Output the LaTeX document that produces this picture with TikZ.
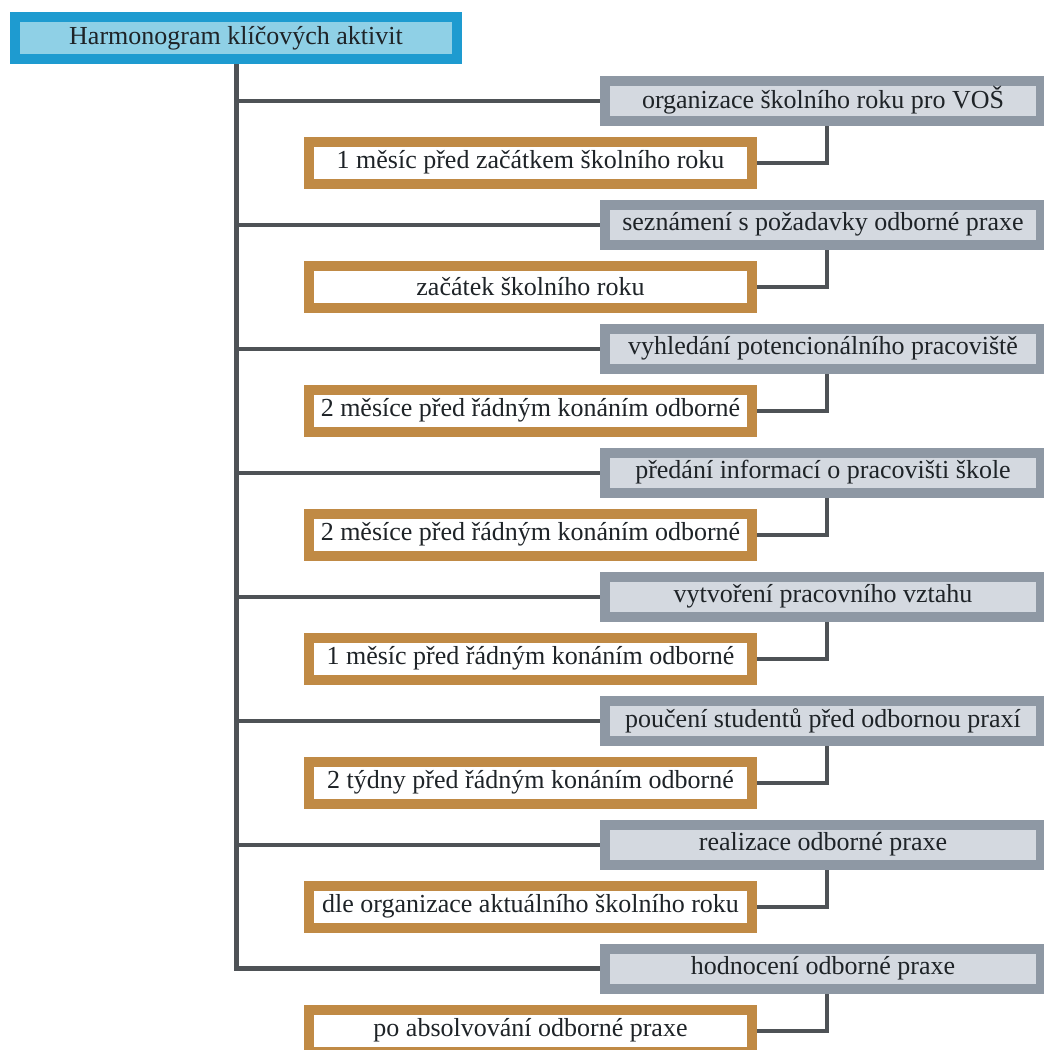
\documentclass[tikz,border=0pt]{standalone}
\usepackage{fontspec}
\setmainfont{Liberation Serif}
\usetikzlibrary{backgrounds}
\definecolor{titleborder}{HTML}{1E9BD0}
\definecolor{titlefill}{HTML}{8FD0E6}
\definecolor{grayborder}{HTML}{8E98A4}
\definecolor{grayfill}{HTML}{D4D9E0}
\definecolor{orangeborder}{HTML}{C08A45}
\definecolor{linecol}{HTML}{4E5256}
\definecolor{textcol}{HTML}{1E2327}
\begin{document}
\begin{tikzpicture}[x=1pt,y=-1pt,
  boxtext/.style={inner sep=0pt, font=\fontsize{26}{30}\selectfont, text=textcol},
  titlebox/.style={boxtext, draw=titleborder, fill=titlefill, line width=10pt, minimum width=442pt, minimum height=42pt},
  graybox/.style={boxtext, draw=grayborder, fill=grayfill, line width=10pt, minimum width=436pt, minimum height=40pt},
  orangebox/.style={boxtext, draw=orangeborder, fill=white, line width=10pt, minimum width=443pt, minimum height=42pt},
  mainline/.style={draw=linecol, line width=5pt},
  branchline/.style={draw=linecol, line width=4pt},
  subline/.style={draw=linecol, line width=4pt}]
\useasboundingbox (0,0) rectangle (1044,1050);

\node[titlebox] (title) at (236,38) {Harmonogram klíčových aktivit};

\node[graybox] (g1) at (823,100.5) {organizace školního roku pro VOŠ};
\node[orangebox] (o1) at (530.5,162.5) {1 měsíc před začátkem školního roku};
\node[graybox] (g2) at (823,224.5) {seznámení s požadavky odborné praxe};
\node[orangebox] (o2) at (530.5,286.5) {začátek školního roku};
\node[graybox] (g3) at (823,348.5) {vyhledání potencionálního pracoviště};
\node[orangebox] (o3) at (530.5,410.5) {2 měsíce před řádným konáním odborné};
\node[graybox] (g4) at (823,472.5) {předání informací o pracovišti škole};
\node[orangebox] (o4) at (530.5,534.5) {2 měsíce před řádným konáním odborné};
\node[graybox] (g5) at (823,596.5) {vytvoření pracovního vztahu};
\node[orangebox] (o5) at (530.5,658.5) {1 měsíc před řádným konáním odborné};
\node[graybox] (g6) at (823,720.5) {poučení studentů před odbornou praxí};
\node[orangebox] (o6) at (530.5,782.5) {2 týdny před řádným konáním odborné};
\node[graybox] (g7) at (823,844.5) {realizace odborné praxe};
\node[orangebox] (o7) at (530.5,906.5) {dle organizace aktuálního školního roku};
\node[graybox] (g8) at (823,968.5) {hodnocení odborné praxe};
\node[orangebox] (o8) at (530.5,1030.5) {po absolvování odborné praxe};

\begin{scope}[on background layer]
\fill[white] (0,0) rectangle (1044,1050);
\draw[mainline] (title.south) |- (g8.west);
\foreach \i in {1,...,7} {
  \draw[branchline] (title.south |- g\i.west) -- (g\i.west);
}
\foreach \i in {1,...,8} {
  \draw[subline] (o\i.east) -| ([xshift=4pt]g\i.south);
}
\end{scope}
\end{tikzpicture}
\end{document}
